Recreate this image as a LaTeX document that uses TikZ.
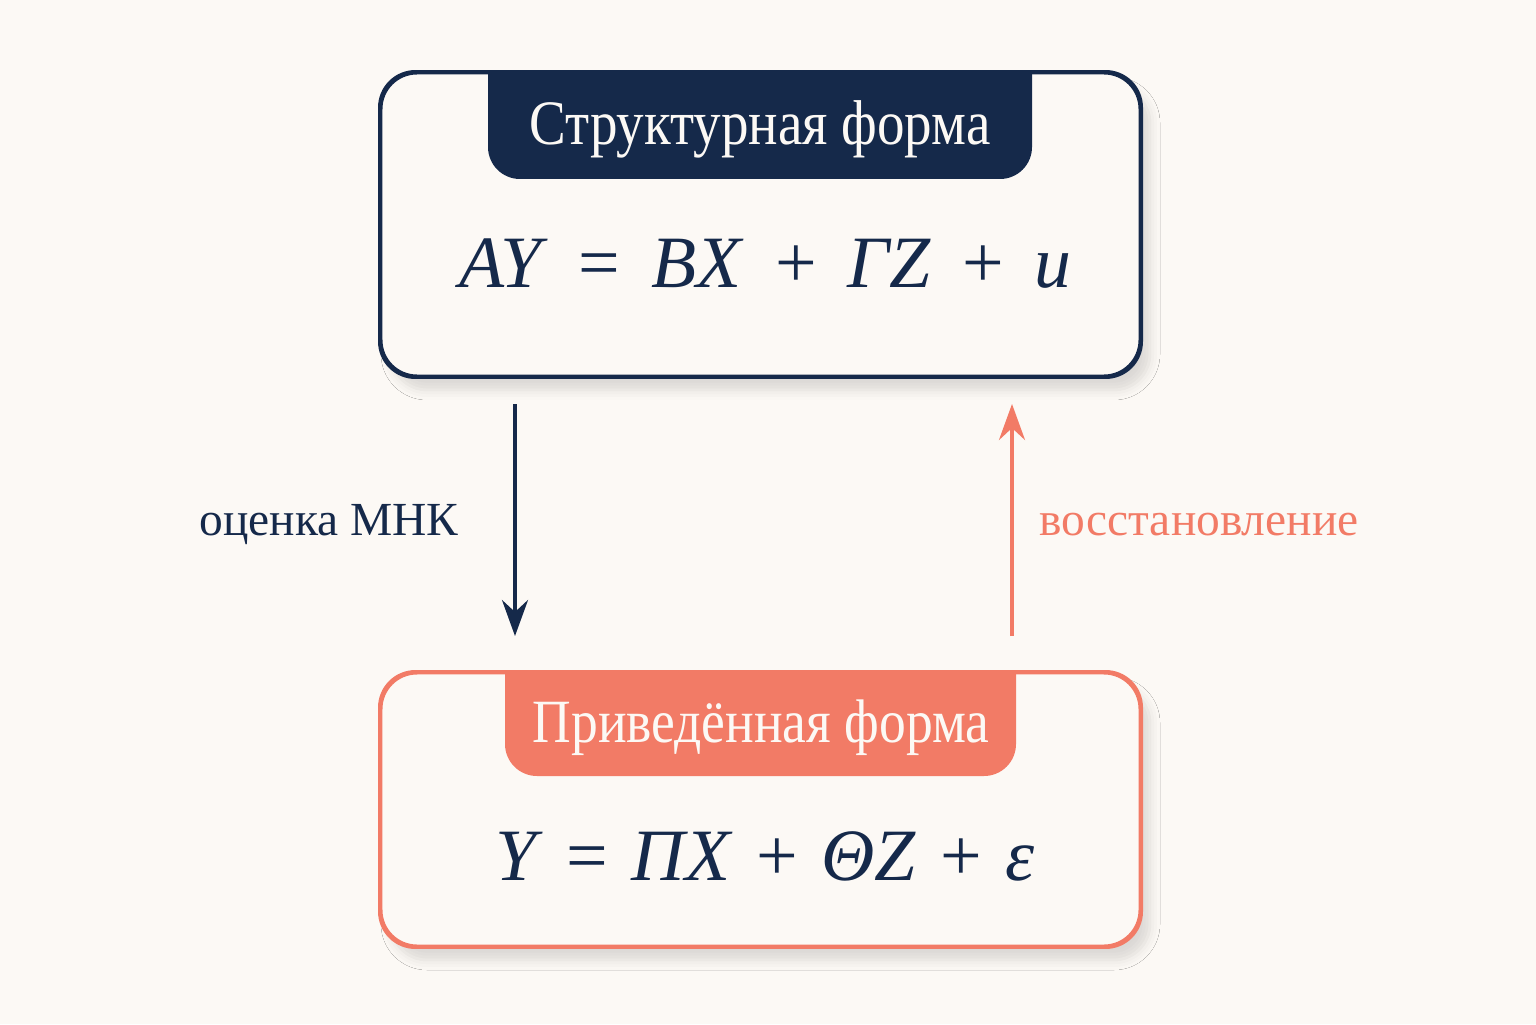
\documentclass[tikz,border=0pt]{standalone}
\usepackage{fontspec}
\setmainfont{Liberation Serif}
\newfontfamily\narrowserif[FakeStretch=0.87]{Liberation Serif}
\usepackage{tikz}
\usetikzlibrary{arrows.meta,shadows.blur}

\definecolor{navy}{HTML}{15294A}
\definecolor{coral}{HTML}{F27B66}
\definecolor{paper}{HTML}{FCF9F5}

\newcommand{\fop}[1]{\hspace{0.42em}#1\hspace{0.42em}}
\newcommand{\gop}[1]{\hspace{0.32em}#1\hspace{0.32em}}

\begin{document}
\begin{tikzpicture}[
  formbox/.style={line width=0.85pt,rounded corners=0.36cm,fill=paper,
    minimum width=7.59cm,
    blur shadow={shadow xshift=0.1cm,shadow yshift=-0.14cm,
      shadow blur radius=0.1cm,shadow opacity=13}},
  tabtext/.style={text=paper,font=\narrowserif\fontsize{18}{20}\selectfont},
  formula/.style={text=navy,font=\fontsize{21}{24}\selectfont},
  maplabel/.style={font=\fontsize{13.5}{16}\selectfont},
  maparrow/.style={line width=1pt,-{Stealth[length=0.36cm,width=0.26cm,inset=0.12cm]}}]
\fill[paper] (0,0) rectangle (15.36,10.24);
\useasboundingbox (0,0) rectangle (15.36,10.24);

% structural form
\node[formbox,draw=navy,minimum height=3.03cm] (struct) at (7.605,7.995) {};
\fill[navy] (4.88,9.51) [rounded corners=0.32cm] -- (4.88,8.45) -- (10.32,8.45) [sharp corners] -- (10.32,9.51) -- cycle;
\draw[navy,line width=0.85pt,rounded corners=0.36cm] (struct.south west) rectangle (struct.north east);
\node[tabtext] (structtitle) at (7.60,8.95) {Структурная форма};
\node[formula] (structeq) at (7.655,7.60) {\textit{AY}\fop{=}\textit{BX}\fop{+}\textit{ΓZ}\fop{+}\textit{u}};

% reduced form
\node[formbox,draw=coral,minimum height=2.73cm] (reduced) at (7.605,2.145) {};
\fill[coral] (5.05,3.51) [rounded corners=0.32cm] -- (5.05,2.48) -- (10.16,2.48) [sharp corners] -- (10.16,3.51) -- cycle;
\draw[coral,line width=0.85pt,rounded corners=0.36cm] (reduced.south west) rectangle (reduced.north east);
\node[tabtext,font=\narrowserif\fontsize{17.5}{20}\selectfont] (reducedtitle) at (7.61,2.96) {Приведённая форма};
\node[formula] (reducedeq) at (7.65,1.68) {\textit{Y}\gop{=}\textit{ΠX}\gop{+}\textit{ΘZ}\gop{+}\textit{ε}};

% arrows
\coordinate (olsfrom) at (5.15,6.20);
\coordinate (olsto) at (5.15,3.88);
\coordinate (backfrom) at (10.12,3.88);
\coordinate (backto) at (10.12,6.20);
\draw[maparrow,navy] (olsfrom) -- (olsto);
\draw[maparrow,coral] (backfrom) -- (backto);
\node[maplabel,text=navy] (olslabel) at (3.29,4.99) {оценка МНК};
\node[maplabel,text=coral] (backlabel) at (11.99,4.99) {восстановление};
\end{tikzpicture}
\end{document}
